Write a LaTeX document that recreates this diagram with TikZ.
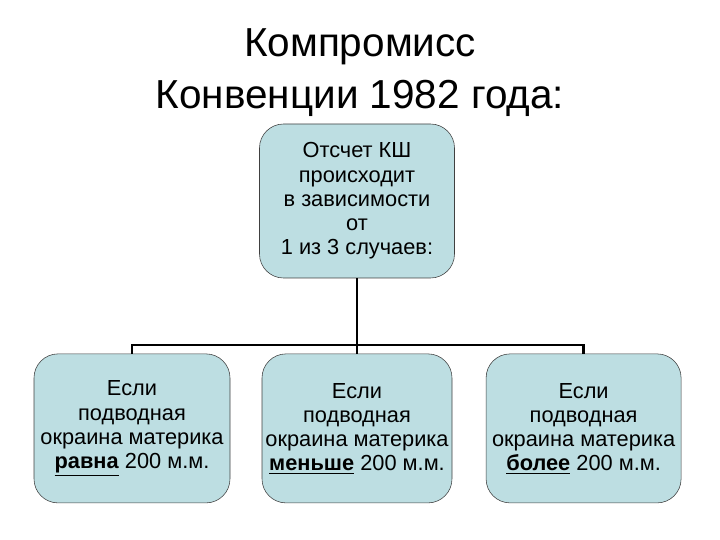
\documentclass[tikz,border=0pt]{standalone}
\usepackage{fontspec}
\setmainfont{Liberation Sans}
\begin{document}
\begin{tikzpicture}[
    casebox/.style={draw=black!75, thin, rounded corners=0.6cm, fill=caseblue, align=center, font=\fontsize{15.5}{17.2}\selectfont, inner sep=1pt},
    tree/.style={draw=black, line width=2pt}
]
\definecolor{caseblue}{RGB}{189,222,226}
\useasboundingbox (0,0) rectangle (18,13.5);

% Title
\node[align=center, font=\fontsize{28.8}{37}\selectfont] (title) at (9, 11.68) {Компромисс\\Конвенции 1982 года:};

% Nodes
\node[casebox, minimum width=4.875cm, minimum height=3.85cm] (root) at (8.925, 8.475) {Отсчет КШ\\происходит\\в зависимости\\от\\1 из 3 случаев:};
\node[casebox, minimum width=4.9cm, minimum height=3.725cm] (equal) at (3.3, 2.79) {Если\\подводная\\окраина материка\\\underline{\textbf{равна}} 200 м.м.};
\node[casebox, minimum width=4.75cm, minimum height=3.725cm] (less) at (8.925, 2.79) {Если\\подводная\\окраина материка\\\underline{\textbf{меньше}} 200 м.м.};
\node[casebox, minimum width=4.875cm, minimum height=3.725cm] (more) at (14.59, 2.79) {Если\\подводная\\окраина материка\\\underline{\textbf{более}} 200 м.м.};

% Connectors
\coordinate (bar) at (8.925, 4.875);
\draw[tree] (root.south) -- (bar);
\draw[tree] (equal.north) |- (bar) -| (more.north);
\draw[tree] (bar) -- (less.north);

\end{tikzpicture}
\end{document}
